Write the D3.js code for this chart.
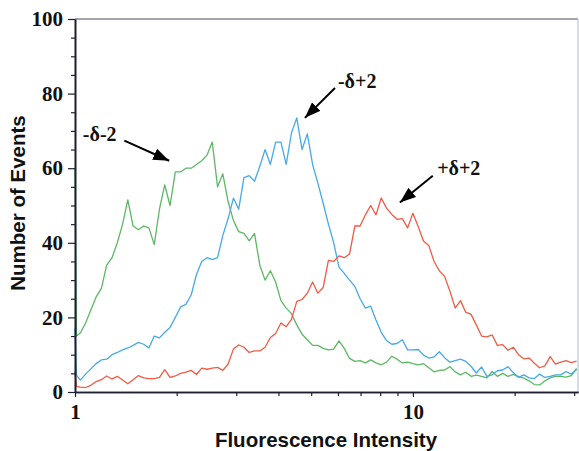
<!DOCTYPE html>
<html><head><meta charset="utf-8">
<script src="https://cdn.jsdelivr.net/npm/d3@7"></script>
<style>body{margin:0;background:#fff}svg{display:block}</style>
</head><body><svg id="c" width="579" height="451"></svg>
<script>
// Fluorescence intensity channels (shared x grid)
const intensity = [1.000, 1.010, 1.037, 1.075, 1.114, 1.155, 1.197, 1.241, 1.287, 1.334, 1.383, 1.433, 1.486, 1.540, 1.597, 1.655, 1.716, 1.778, 1.843, 1.911, 1.981, 2.054, 2.129, 2.207, 2.288, 2.371, 2.458, 2.548, 2.642, 2.738, 2.839, 2.943, 3.051, 3.162, 3.278, 3.398, 3.523, 3.652, 3.786, 3.924, 4.068, 4.217, 4.372, 4.532, 4.698, 4.870, 5.048, 5.233, 5.425, 5.623, 5.829, 6.043, 6.264, 6.494, 6.732, 6.978, 7.234, 7.499, 7.774, 8.059, 8.354, 8.660, 8.977, 9.306, 9.647, 10.00, 10.37, 10.75, 11.14, 11.55, 11.97, 12.41, 12.87, 13.34, 13.83, 14.33, 14.86, 15.40, 15.97, 16.55, 17.16, 17.78, 18.43, 19.11, 19.81, 20.54, 21.29, 22.07, 22.88, 23.71, 24.58, 25.48, 26.42, 27.38, 28.39, 29.43, 30.51];

// Number of events per channel
const eventsNegDeltaMinus2 = [60, 15, 15.8, 18.5, 22, 25.5, 27.8, 34, 36, 40, 45, 51.5, 44.5, 43.5, 44.5, 44, 39.5, 49, 55.5, 50, 59, 59, 60, 60, 61, 62, 63.5, 67, 55, 58.5, 51, 46, 43, 42.5, 40.5, 42.5, 34, 30, 32.5, 29.5, 24.5, 22.5, 21, 18, 15.5, 14, 12.5, 12.5, 11.7, 11.3, 11.5, 13.7, 11.7, 9, 8.2, 8.4, 7.8, 8.6, 7.8, 7.3, 8, 9.6, 8.8, 7.8, 8, 7.6, 7.3, 7.6, 6.5, 5.4, 5.8, 5.9, 6.8, 5.4, 4.6, 5.3, 4.2, 4.5, 4.2, 3.8, 5.5, 4.2, 5, 4.2, 4.7, 4.1, 3.7, 3, 2, 1.9, 3, 3.8, 4.2, 4.2, 4, 4.4, 6.3];
const eventsNegDeltaPlus2 = [17, 4.5, 3.2, 4.8, 6.2, 7.6, 8.6, 8.8, 10, 10.6, 11.3, 11.8, 12.5, 13.3, 12.8, 11.8, 15, 14.5, 16, 17.3, 20, 22.8, 23.5, 26, 31.5, 35, 36, 35.5, 36, 42, 46.5, 52, 49, 57.5, 58, 56.5, 60.5, 65, 61, 67, 67, 61, 69.5, 73.5, 65, 69.2, 61, 56, 50.6, 45, 40, 33.5, 31.8, 30, 28.3, 25, 22.5, 23, 19.3, 16, 13.8, 12.8, 13, 14, 11.3, 11.3, 11.4, 9.9, 9.1, 9.4, 10.8, 9.2, 8, 8.4, 8.8, 8.2, 6.9, 5.1, 6.7, 4.2, 4.6, 5.7, 5.9, 6.8, 5.2, 3.9, 4.6, 3.8, 3.6, 4.8, 3.9, 4.2, 4.6, 4.6, 5.5, 4.8, 6];
const eventsPosDeltaPlus2 = [5.5, 1.5, 1.3, 1.2, 1.8, 2.8, 3.3, 4.3, 3.5, 4.2, 3.2, 2.2, 3.3, 4.4, 3.8, 3.6, 3.6, 3.9, 6, 3.9, 4.3, 5, 5.3, 5.8, 4.7, 6.4, 6.1, 6.4, 6.6, 5.8, 7.5, 11.5, 12.6, 12, 10.6, 11, 11, 12, 14.6, 15.7, 18.5, 17.5, 19.5, 24.3, 24.8, 26.5, 29.5, 26.5, 28, 35.3, 35, 36.5, 36, 37, 44.5, 44.5, 47.5, 50, 47.5, 52, 49.3, 47.6, 46.3, 46.5, 44, 47.9, 44.3, 40.5, 39.3, 35, 32.5, 31, 27, 22.5, 24.5, 21.4, 20.8, 18, 15, 14.8, 15.3, 12.5, 12.7, 11.2, 12, 10, 8.9, 9.1, 7.7, 6.5, 7, 9.5, 7.5, 8, 8.4, 7.9, 8.3];

const seriesNames = ["-δ-2", "-δ+2", "+δ+2"];
const seriesColors = ["#5cb865", "#45aaea", "#ef5b45"];

const yMajorTicks = [0, 20, 40, 60, 80, 100];
const yMinorTicks = [5, 10, 15, 25, 30, 35, 45, 50, 55, 65, 70, 75, 85, 90, 95];
const xLabelTicks = [1, 10];
const xMinorTicks = [2, 3, 4, 5, 6, 7, 8, 9, 20, 30];

const xTitle = "Fluorescence Intensity";
const yTitle = "Number of Events";

// annotation: label position and arrow (data units)
const annotLabels = ["-δ-2", "-δ+2", "+δ+2"];
const annotTextX = [1.055, 6.0, 11.8];
const annotTextY = [69.3, 83.5, 60.0];
const annotFromX = [1.40, 5.88, 11.45];
const annotFromY = [67.4, 81.5, 58.0];
const annotToX = [1.90, 4.79, 9.15];
const annotToY = [62.0, 73.5, 50.8];

const svg = d3.select("#c");
const x = d3.scaleLog().domain([1, 30.8]).range([75, 578]);
const y = d3.scaleLinear().domain([0, 100]).range([392, 19]);

const serif = "'Liberation Serif','Times New Roman',serif";
const sans = "'Liberation Sans',Arial,sans-serif";
const axisColor = "#1d1f33";

// clip
svg.append("defs").append("clipPath").attr("id", "plot")
  .append("rect").attr("x", 74).attr("y", 19).attr("width", 505).attr("height", 374);

// arrow marker
svg.select("defs").append("marker").attr("id", "ah")
  .attr("markerUnits", "userSpaceOnUse")
  .attr("viewBox", "0 0 16 12").attr("refX", 16).attr("refY", 6)
  .attr("markerWidth", 16).attr("markerHeight", 12).attr("orient", "auto")
  .append("path").attr("d", "M0,0 L16,6 L0,12 Z").attr("fill", "#000");

// series
const allSeries = [eventsNegDeltaMinus2, eventsNegDeltaPlus2, eventsPosDeltaPlus2];
const line = d3.line().x((d, i) => x(intensity[i])).y(d => y(d));
const g = svg.append("g").attr("clip-path", "url(#plot)");
allSeries.forEach((s, si) => {
  g.append("path").datum(s).attr("d", line)
    .attr("fill", "none").attr("stroke", seriesColors[si])
    .attr("stroke-width", 1.3).attr("stroke-linejoin", "round");
});

// frame (top, right)
svg.append("line").attr("x1", x(1)).attr("x2", 578).attr("y1", y(100)).attr("y2", y(100))
  .attr("stroke", "#4a4c60").attr("stroke-width", 1.2);
svg.append("line").attr("x1", 578).attr("x2", 578).attr("y1", y(100)).attr("y2", y(0))
  .attr("stroke", "#a9bccd").attr("stroke-width", 1);

// y axis
svg.append("g").attr("transform", `translate(${x(1)},0)`)
  .call(d3.axisLeft(y).tickValues(yMajorTicks).tickSize(7).tickSizeOuter(0).tickPadding(5));
svg.append("g").attr("transform", `translate(${x(1)},0)`)
  .call(d3.axisLeft(y).tickValues(yMinorTicks).tickSize(4).tickSizeOuter(0).tickFormat(""));
// x axis
svg.append("g").attr("transform", `translate(0,${y(0)})`)
  .call(d3.axisBottom(x).tickValues(xLabelTicks).tickSize(5).tickSizeOuter(0).tickPadding(7).tickFormat(d3.format("d")));
svg.append("g").attr("transform", `translate(0,${y(0)})`)
  .call(d3.axisBottom(x).tickValues(xMinorTicks).tickSize(4).tickSizeOuter(0).tickFormat(""));

svg.selectAll(".domain").attr("stroke", axisColor).attr("stroke-width", 1.6);
svg.selectAll(".tick line").attr("stroke", axisColor).attr("stroke-width", 1.2);
svg.selectAll(".tick text").attr("fill", "#111")
  .style("font-family", serif).style("font-weight", "bold").style("font-size", "21px");

// axis titles
svg.append("text").attr("x", 326).attr("y", 447).attr("text-anchor", "middle")
  .style("font-family", sans).style("font-weight", "bold").style("font-size", "20.5px")
  .attr("fill", "#111").text(xTitle);
svg.append("text").attr("transform", "translate(25,203) rotate(-90)").attr("text-anchor", "middle")
  .style("font-family", sans).style("font-weight", "bold").style("font-size", "20.5px")
  .attr("fill", "#111").text(yTitle);

// annotations
annotLabels.forEach((lab, i) => {
  svg.append("line")
    .attr("x1", x(annotFromX[i])).attr("y1", y(annotFromY[i]))
    .attr("x2", x(annotToX[i])).attr("y2", y(annotToY[i]))
    .attr("stroke", "#000").attr("stroke-width", 2).attr("marker-end", "url(#ah)");
  svg.append("text").attr("x", x(annotTextX[i])).attr("y", y(annotTextY[i]))
    .attr("dominant-baseline", "central")
    .style("font-family", serif).style("font-weight", "bold").style("font-size", "20px")
    .attr("fill", "#111").text(lab);
});
</script></body></html>
